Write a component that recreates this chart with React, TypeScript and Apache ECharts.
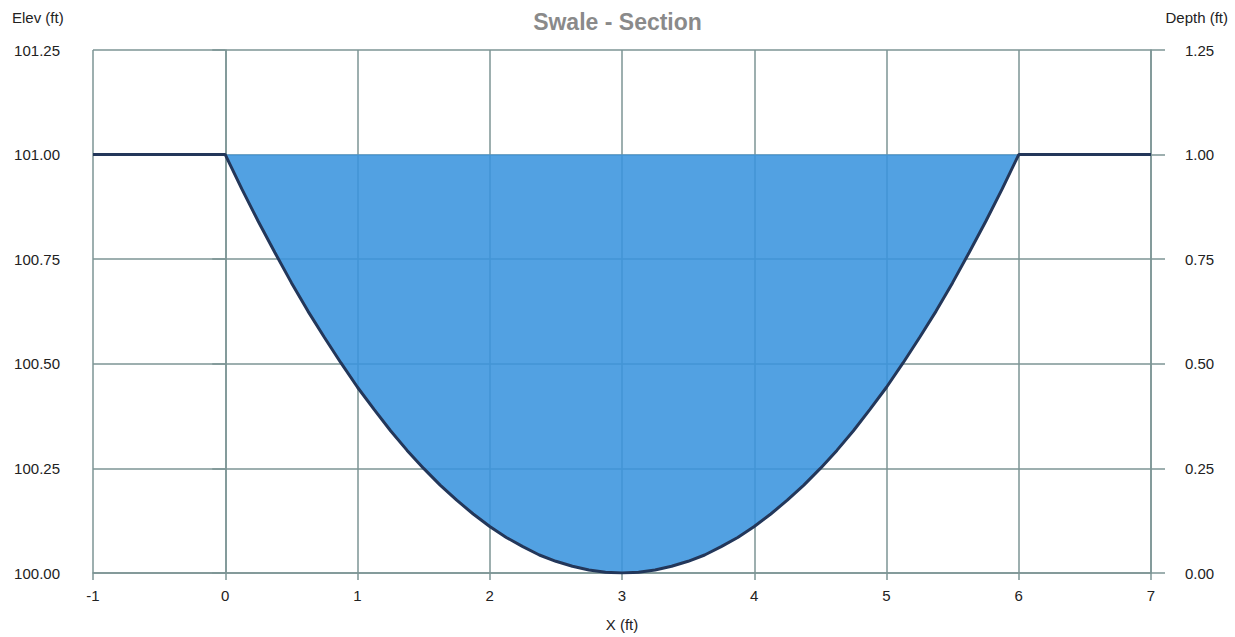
import React, { useEffect, useRef } from "react";
import * as echarts from "echarts";

const xValues = [-1, 0, 0.125, 0.25, 0.375, 0.5, 0.625, 0.75, 0.875, 1, 1.125, 1.25, 1.375, 1.5, 1.625, 1.75, 1.875, 2, 2.125, 2.25, 2.375, 2.5, 2.625, 2.75, 2.875, 3, 3.125, 3.25, 3.375, 3.5, 3.625, 3.75, 3.875, 4, 4.125, 4.25, 4.375, 4.5, 4.625, 4.75, 4.875, 5, 5.125, 5.25, 5.375, 5.5, 5.625, 5.75, 5.875, 6, 7];
const elevValues = [101.0, 101.0, 100.918, 100.84, 100.766, 100.694, 100.626, 100.563, 100.502, 100.444, 100.391, 100.34, 100.293, 100.25, 100.21, 100.174, 100.141, 100.111, 100.085, 100.063, 100.043, 100.028, 100.016, 100.007, 100.002, 100.0, 100.002, 100.007, 100.016, 100.028, 100.043, 100.063, 100.085, 100.111, 100.141, 100.174, 100.21, 100.25, 100.293, 100.34, 100.391, 100.444, 100.502, 100.563, 100.626, 100.694, 100.766, 100.84, 100.918, 101.0, 101.0];
const waterSurface = 101.0;
const waterStartX = 0;
const waterEndX = 6;

const titleText = "Swale - Section";
const xAxisName = "X (ft)";
const leftAxisName = "Elev (ft)";
const rightAxisName = "Depth (ft)";

const GRID = "#7c9494";
const FONT = "Liberation Sans, Arial, sans-serif";

export default function App() {
  const ref = useRef<HTMLDivElement>(null);
  useEffect(() => {
    if (!ref.current) return;
    const chart = echarts.init(ref.current, undefined, { renderer: "svg" });
    const groundData = xValues.map((x, i) => [x, elevValues[i]]);
    const wetPoints = groundData.filter((p) => p[0] >= waterStartX && p[0] <= waterEndX);

    chart.setOption({
      animation: false,
      backgroundColor: "#ffffff",
      textStyle: { fontFamily: FONT },
      title: {
        text: titleText,
        left: "center",
        top: 5,
        textStyle: { color: "#8a8a8a", fontSize: 23, fontWeight: "bold", fontFamily: FONT },
      },
      graphic: [
        {
          type: "text",
          left: 12,
          top: 10,
          style: { text: leftAxisName, fill: "#222", font: `15px ${FONT}` },
        },
        {
          type: "text",
          right: 7,
          top: 10,
          style: { text: rightAxisName, fill: "#222", font: `15px ${FONT}` },
        },
      ],
      grid: { left: 93, right: 84, top: 50, bottom: 62, containLabel: false },
      xAxis: {
        type: "value",
        min: -1,
        max: 7,
        interval: 1,
        name: xAxisName,
        nameLocation: "middle",
        nameGap: 44,
        nameTextStyle: { color: "#222", fontSize: 15, fontFamily: FONT },
        axisLine: { show: true, lineStyle: { color: GRID, width: 1.5 } },
        axisTick: { show: true, length: 7, lineStyle: { color: GRID, width: 1.5 } },
        splitLine: { show: true, lineStyle: { color: GRID, width: 1.5 } },
        axisLabel: { color: "#222", fontSize: 15, margin: 15, fontFamily: FONT },
      },
      yAxis: [
        {
          type: "value",
          min: 100,
          max: 101.25,
          interval: 0.25,
          position: "left",
          axisLine: { show: true, lineStyle: { color: GRID, width: 1.5 } },
          axisTick: { show: true, length: 13, lineStyle: { color: GRID, width: 1.5 } },
          splitLine: { show: true, lineStyle: { color: GRID, width: 1.5 } },
          axisLabel: {
            color: "#222",
            fontSize: 15,
            margin: 33,
            fontFamily: FONT,
            formatter: (v: number) => v.toFixed(2),
          },
        },
        {
          type: "value",
          min: 0,
          max: 1.25,
          interval: 0.25,
          position: "right",
          axisLine: { show: true, lineStyle: { color: GRID, width: 1.5 } },
          axisTick: { show: true, length: 14, lineStyle: { color: GRID, width: 1.5 } },
          splitLine: { show: false },
          axisLabel: {
            color: "#222",
            fontSize: 15,
            margin: 34,
            fontFamily: FONT,
            formatter: (v: number) => v.toFixed(2),
          },
        },
      ],
      series: [
        {
          type: "custom",
          name: "Water",
          xAxisIndex: 0,
          yAxisIndex: 0,
          z: 3,
          silent: true,
          data: [[waterStartX, waterSurface]],
          renderItem: (params: any, api: any) => {
            const pts = wetPoints.map((p) => api.coord([p[0], p[1]]));
            pts.push(api.coord([waterEndX, waterSurface]));
            pts.push(api.coord([waterStartX, waterSurface]));
            return {
              type: "polygon",
              shape: { points: pts },
              style: { fill: "rgba(58,148,222,0.88)", stroke: "none" },
            };
          },
        },
        {
          type: "line",
          name: "Ground",
          xAxisIndex: 0,
          yAxisIndex: 0,
          z: 5,
          data: groundData,
          showSymbol: false,
          symbol: "none",
          smooth: false,
          lineStyle: { color: "#23375a", width: 3 },
        },
      ],
    });
    return () => chart.dispose();
  }, []);
  return <div ref={ref} style={{ position: "fixed", left: 0, top: 0, width: 1235, height: 637 }} />;
}
